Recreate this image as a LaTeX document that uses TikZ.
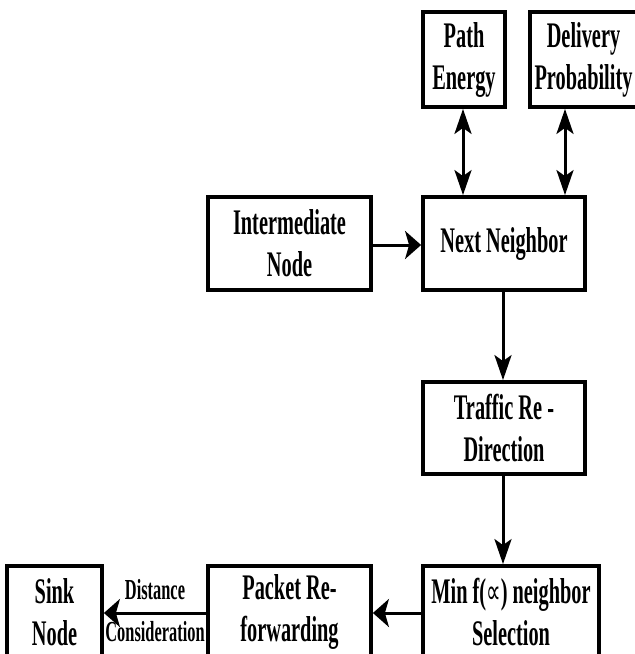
\documentclass[tikz,border=0pt]{standalone}
\usepackage{fontspec}
\setmainfont{Liberation Serif}[FakeStretch=0.565]
\newfontfamily\symf{DejaVu Sans}[FakeStretch=0.6]
\usetikzlibrary{arrows.meta}
\begin{document}
\begin{tikzpicture}[x=1pt,y=-1pt,
  blk/.style={draw=black,line width=3.8pt,rectangle,inner sep=0pt,align=center,
    font=\bfseries\fontsize{36}{42}\selectfont},
  lbl/.style={inner sep=0pt,font=\bfseries\fontsize{29}{32}\selectfont},
  tipv/.tip={Stealth[length=25pt,width=17pt,inset=6pt]},
  tiph/.tip={Stealth[length=16pt,width=28pt,inset=4pt]},
  vconn/.style={line width=3pt,-tipv},
  hconn/.style={line width=3pt,-tiph},
  dconn/.style={line width=3pt,tipv-tipv}]
\useasboundingbox (0,0) rectangle (635,654);
\clip (0,0) rectangle (635,654);
\fill[white] (0,0) rectangle (635,654);
\node[blk,minimum width=82pt,minimum height=95pt] (pe) at (464,59.5) {Path\\Energy};
\node[blk,minimum width=107pt,minimum height=95pt] (dp) at (583.5,59.5) {Delivery\\Probability};
\node[blk,minimum width=163pt,minimum height=93pt] (in) at (289.5,243.5) {Intermediate\\Node};
\node[blk,minimum width=162pt,minimum height=93pt] (nn) at (504,243.5) {Next Neighbor};
\node[blk,minimum width=162pt,minimum height=92pt] (tr) at (504,428) {Traffic Re -\\Direction};
\node[blk,minimum width=176pt,minimum height=92pt] (mn) at (511,612) {Min f({\symf\mdseries\fontsize{34}{42}\selectfont ∝}) neighbor\\Selection};
\node[blk,minimum width=163pt,minimum height=92pt] (pr) at (289.5,612) {Packet Re-\\forwarding};
\node[blk,minimum width=95pt,minimum height=92pt] (sn) at (54.5,612) {Sink\\Node};
\draw[dconn] (pe.south -| 463,0) -- (nn.north -| 463,0);
\draw[dconn] (dp.south -| 565,0) -- (nn.north -| 565,0);
\draw[hconn] (in.east |- 0,245) -- (nn.west |- 0,245);
\draw[vconn] (nn.south -| 503,0) -- (tr.north -| 503,0);
\draw[vconn] (tr.south -| 503,0) -- (mn.north -| 503,0);
\draw[hconn] (mn.west |- 0,613) -- (pr.east |- 0,613);
\draw[hconn] (pr.west |- 0,613) -- (sn.east |- 0,613) node[lbl,midway,above=12pt] {Distance} node[lbl,midway,below=7pt] {Consideration};
\end{tikzpicture}
\end{document}
